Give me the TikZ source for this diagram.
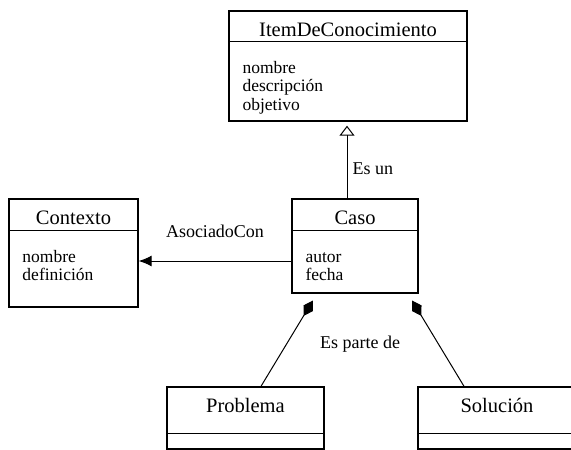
\documentclass[tikz,border=0pt]{standalone}
\usepackage{fontspec}
\setmainfont{Liberation Serif}
\usetikzlibrary{arrows.meta}
\usetikzlibrary{positioning}

\begin{document}
\begin{tikzpicture}
	[x=1pt, y=-1pt,
	clase/.style = {shape=rectangle, draw, line width=1.4pt, inner sep=0pt},
	nombre/.style = {anchor=base, inner sep=0pt, font=\fontsize{20.5}{24}\selectfont},
	atrib/.style = {anchor=base west, align=left, inner sep=0pt, font=\fontsize{17.5}{18.5}\selectfont},
	etiq/.style = {inner sep=0pt, font=\fontsize{18}{20}\selectfont},
	conector/.style = {draw, line width=1pt}]
	\useasboundingbox (0,0) rectangle (571,450);
	% clases
	\node[clase, minimum width=238pt, minimum height=110pt] (item) at (348,66) {};
	\node[clase, minimum width=129pt, minimum height=108pt] (ctx) at (73.5,253) {};
	\node[clase, minimum width=126pt, minimum height=94pt] (caso) at (355,246) {};
	\node[clase, minimum width=157pt, minimum height=62pt] (prob) at (245.5,418) {};
	\node[clase, minimum width=158pt, minimum height=62pt] (sol) at (497,418) {};
	\draw[line width=1.2pt] ([yshift=-31pt]item.north west) -- ([yshift=-31pt]item.north east);
	\draw[line width=1.2pt] ([yshift=-32pt]ctx.north west) -- ([yshift=-32pt]ctx.north east);
	\draw[line width=1.2pt] ([yshift=-32pt]caso.north west) -- ([yshift=-32pt]caso.north east);
	\draw[line width=1.2pt] ([yshift=-47pt]prob.north west) -- ([yshift=-47pt]prob.north east);
	\draw[line width=1.2pt] ([yshift=-47pt]sol.north west) -- ([yshift=-47pt]sol.north east);
	\node[nombre] (itemnom) at ([yshift=-26pt]item.north) {ItemDeConocimiento};
	\node[nombre] (ctxnom) at ([yshift=-26pt]ctx.north) {Contexto};
	\node[nombre] (casonom) at ([yshift=-26pt]caso.north) {Caso};
	\node[nombre] (probnom) at ([yshift=-26pt]prob.north) {Problema};
	\node[nombre] (solnom) at ([yshift=-26pt]sol.north) {Solución};
	% base = linea de abajo
	\node[atrib] (itematr) at ([xshift=14pt,yshift=-100pt]item.north west) {nombre\\descripción\\objetivo};
	\node[atrib] (ctxatr) at ([xshift=14pt,yshift=-82.5pt]ctx.north west) {nombre\\definición};
	\node[atrib] (casoatr) at ([xshift=14pt,yshift=-82.5pt]caso.north west) {autor\\fecha};
	% relaciones
	\coordinate (gen) at ([xshift=-8pt]caso.north);
	\draw[conector, -{Triangle[open, length=10pt, width=15pt]}, shorten >=4pt]
	(gen) -- (gen |- item.south) node[etiq, pos=0.38, right=5pt] {Es un};
	\coordinate (aso) at ([yshift=-15pt]caso.west);
	\draw[conector, -{Latex[length=13pt, width=11pt]}]
	(aso) -- (aso -| ctx.east) node[etiq, midway, above=23pt] {AsociadoCon};
	\coordinate (compa) at ([xshift=-38pt]caso.south);
	\coordinate (compb) at ([xshift=53pt]caso.south);
	\draw[conector, -{Diamond[length=18pt, width=11pt]}, shorten >=8pt] ([xshift=15.5pt]prob.north) -- (compa);
	\draw[conector, -{Diamond[length=18pt, width=11pt]}, shorten >=8pt] ([xshift=-33pt]sol.north) -- (compb);
	\node[etiq, below=42pt of caso, xshift=5pt] (parte) {Es parte de};
\end{tikzpicture}
\end{document}
